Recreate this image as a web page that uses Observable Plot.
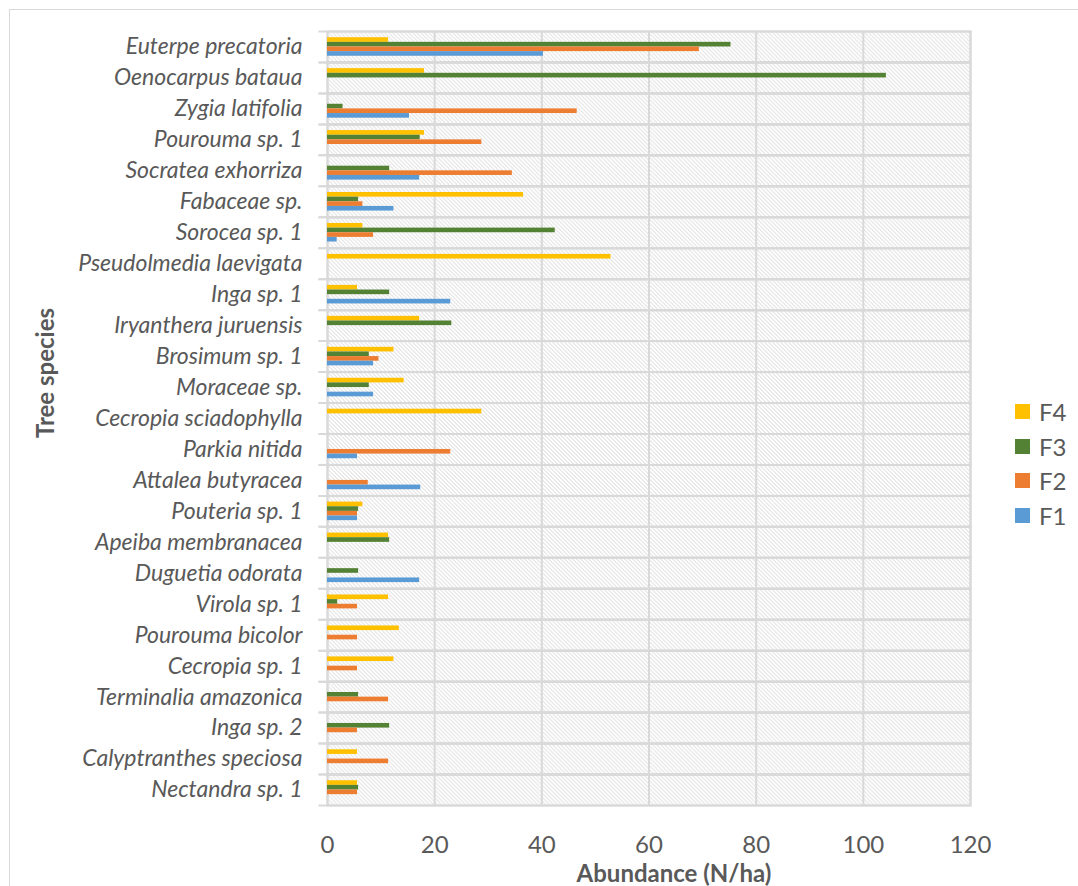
<!DOCTYPE html>
<html>
<head>
<meta charset="utf-8">
<script src="https://cdn.jsdelivr.net/npm/d3@7"></script>
<script src="https://cdn.jsdelivr.net/npm/@observablehq/plot@0.6"></script>
<style>
  body { margin: 0; background: #fff; font-family: Lato, "Open Sans", sans-serif; }
  #chart { position: relative; width: 1078px; height: 886px; overflow: hidden; }
  #border { position: absolute; left: 9px; top: 9px; width: 1075px; height: 885px; border: 1px solid #d9d9d9; box-sizing: border-box; }
  #plot { position: absolute; left: 0; top: 0; }
  .title { position: absolute; font-weight: bold; font-size: 24px; color: #595959; white-space: nowrap; }
  #ytitle { left: 44px; top: 373px; transform: translate(-50%, -50%) rotate(-90deg); }
  #xtitle { left: 674px; top: 872px; transform: translate(-50%, -50%); }
  #legend { position: absolute; left: 1015px; top: 394px; }
  .item { display: flex; align-items: center; height: 34.7px; font-size: 24px; color: #595959; }
  .swatch { width: 15px; height: 15px; margin-right: 9px; }
</style>
</head>
<body>
<div id="chart">
  <div id="border"></div>
  <div id="plot"></div>
  <div class="title" id="ytitle">Tree species</div>
  <div class="title" id="xtitle">Abundance (N/ha)</div>
  <div id="legend"></div>
</div>
<script>
// Tree species, listed top to bottom
const species = [
  "Euterpe precatoria", "Oenocarpus bataua", "Zygia latifolia", "Pourouma sp. 1",
  "Socratea exhorriza", "Fabaceae sp.", "Sorocea sp. 1", "Pseudolmedia laevigata",
  "Inga sp. 1", "Iryanthera juruensis", "Brosimum sp. 1", "Moraceae sp.",
  "Cecropia sciadophylla", "Parkia nitida", "Attalea butyracea", "Pouteria sp. 1",
  "Apeiba membranacea", "Duguetia odorata", "Virola sp. 1", "Pourouma bicolor",
  "Cecropia sp. 1", "Terminalia amazonica", "Inga sp. 2", "Calyptranthes speciosa",
  "Nectandra sp. 1"
];

// Abundance (N/ha) per forest plot, same order as species (0 = not recorded)
const f1 = [40.3, 0, 15.3, 0, 17.2, 12.4, 1.8, 0, 23.0, 0, 8.6, 8.6, 0, 5.6, 17.4, 5.6, 0, 17.2, 0, 0, 0, 0, 0, 0, 0];
const f2 = [69.4, 0, 46.6, 28.8, 34.5, 6.6, 8.6, 0, 0, 0, 9.6, 0, 0, 23.0, 7.6, 5.6, 0, 0, 5.6, 5.6, 5.6, 11.4, 5.6, 11.4, 5.6];
const f3 = [75.3, 104.3, 2.9, 17.3, 11.6, 5.8, 42.5, 0, 11.6, 23.2, 7.8, 7.8, 0, 0, 0, 5.8, 11.6, 5.8, 1.9, 0, 0, 5.8, 11.6, 0, 5.8];
const f4 = [11.4, 18.1, 0, 18.1, 0, 36.6, 6.6, 52.9, 5.6, 17.2, 12.4, 14.3, 28.8, 0, 0, 6.6, 11.4, 0, 11.4, 13.4, 12.4, 0, 0, 5.6, 5.6];

const seriesNames = ["F4", "F3", "F2", "F1"];
const seriesColors = ["#FFC000", "#548235", "#ED7D31", "#5B9BD5"];
const xTicks = [0, 20, 40, 60, 80, 100, 120];

const valuesBySeries = {F1: f1, F2: f2, F3: f3, F4: f4};
const rows = [];
species.forEach((name, i) => {
  for (const s of seriesNames) {
    const v = valuesBySeries[s][i];
    if (v > 0) rows.push({species: name, series: s, value: v});
  }
});

const chart = Plot.plot({
  width: 1078,
  height: 886,
  marginLeft: 327,
  marginRight: 108,
  marginTop: 31,
  marginBottom: 81,
  style: {fontFamily: "Lato, 'Open Sans', sans-serif", color: "#595959", background: "transparent", overflow: "visible"},
  x: {domain: [0, 120]},
  fy: {domain: species, padding: 0, round: false, label: null},
  y: {domain: seriesNames, axis: null, padding: 0, round: false, insetTop: 6.2, insetBottom: 6.2},
  color: {domain: seriesNames, range: seriesColors},
  marks: [
    Plot.frame({fill: "url(#hatch)", stroke: "none"}),
    Plot.gridX({ticks: xTicks, stroke: "#d9d9d9", strokeOpacity: 1, strokeWidth: 2}),
    Plot.frame({stroke: "#d9d9d9", strokeWidth: 2}),
    Plot.frame({anchor: "top", insetLeft: -8, stroke: "#d9d9d9", strokeWidth: 2}),
    Plot.frame({anchor: "bottom", insetLeft: -8, stroke: "#d9d9d9", strokeWidth: 2}),
    Plot.barX(rows, {x: "value", y: "series", fy: "species", fill: "series"}),
    Plot.axisX({ticks: xTicks, tickSize: 0, tickPadding: 30, fontSize: 24, label: null}),
    Plot.axisFy({anchor: "left", tickSize: 0, tickPadding: 25, fontSize: 23, fontStyle: "italic", label: null})
  ]
});

// Light downward-diagonal hatch used for the plot background
const defs = d3.create("svg:defs");
const pattern = defs.append("pattern")
  .attr("id", "hatch")
  .attr("patternUnits", "userSpaceOnUse")
  .attr("width", 4)
  .attr("height", 4);
pattern.append("rect").attr("width", 4).attr("height", 4).attr("fill", "#fff");
pattern.append("path")
  .attr("d", "M0,0L4,4M-1,3L1,5M3,-1L5,1")
  .attr("stroke", "#d4d4d4")
  .attr("stroke-width", 1);
chart.insertBefore(defs.node(), chart.firstChild);

document.getElementById("plot").appendChild(chart);

// Legend
const legend = d3.select("#legend");
seriesNames.forEach((s, i) => {
  const item = legend.append("div").attr("class", "item");
  item.append("div").attr("class", "swatch").style("background", seriesColors[i]);
  item.append("span").text(s);
});
</script>
</body>
</html>
